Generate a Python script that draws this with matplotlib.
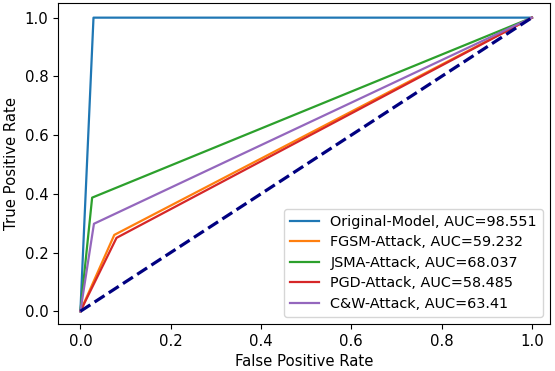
import matplotlib
matplotlib.use('Agg')
import matplotlib.pyplot as plt

plt.rcParams['font.size'] = 10.7

# ROC points (fpr, tpr) for each model
labels = ['Original-Model, AUC=98.551', 'FGSM-Attack, AUC=59.232',
          'JSMA-Attack, AUC=68.037', 'PGD-Attack, AUC=58.485',
          'C&W-Attack, AUC=63.41']
fpr = [[0, 0.029, 1], [0, 0.075, 1], [0, 0.026, 1], [0, 0.080, 1], [0, 0.030, 1]]
tpr = [[0, 1.0, 1], [0, 0.260, 1], [0, 0.387, 1], [0, 0.250, 1], [0, 0.298, 1]]
colors = ['#1f77b4', '#ff7f0e', '#2ca02c', '#d62728', '#9467bd']

fig, ax = plt.subplots(figsize=(5.55, 3.71), dpi=100)
for f, t, lab, c in zip(fpr, tpr, labels, colors):
    ax.plot(f, t, color=c, lw=1.6, label=lab)
ax.plot([0, 1], [0, 1], color='navy', lw=2.3, linestyle='--')

ax.set_xlim(-0.049, 1.04)
ax.set_ylim(-0.043, 1.05)
ax.set_xlabel('False Positive Rate')
ax.set_ylabel('True Positive Rate')
ax.legend(loc='lower right', fontsize=10.4, labelspacing=0.45)

fig.subplots_adjust(left=0.105, right=0.991, bottom=0.127, top=0.992)
plt.savefig('out.png', dpi=100)
